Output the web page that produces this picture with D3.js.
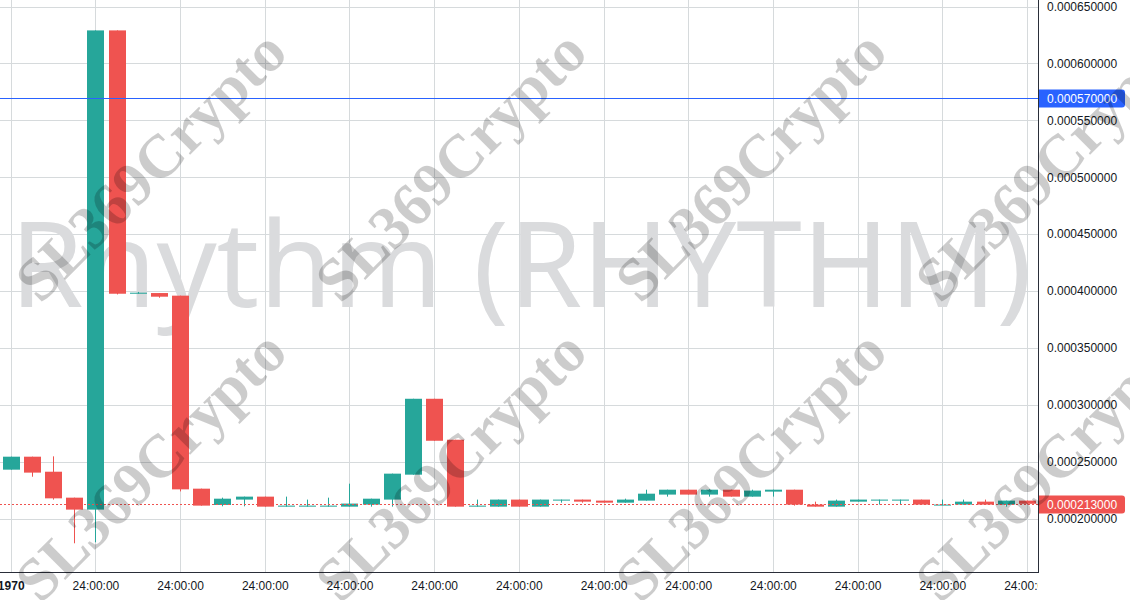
<!DOCTYPE html>
<html>
<head>
<meta charset="utf-8">
<script src="https://cdn.jsdelivr.net/npm/d3@7"></script>
<style>
  html, body { margin: 0; padding: 0; background: #ffffff; }
  svg { display: block; }
</style>
</head>
<body>
<svg id="chart" width="1130" height="600"></svg>
<script>
// ---------------- DATA ----------------
const opens  = [0.0002430,0.0002544,0.0002412,0.0002184,0.0002079,0.0006290,0.0003976,0.0003982,0.0003959,0.0002263,
                0.0002120,0.0002167,0.0002193,0.0002105,0.0002105,0.0002105,0.0002105,0.0002123,0.0002167,0.0002386,
                0.0003053,0.0002693,0.0002105,0.0002105,0.0002167,0.0002105,0.0002158,0.0002167,0.0002158,0.0002140,
                0.0002158,0.0002211,0.0002254,0.0002211,0.0002254,0.0002193,0.0002237,0.0002254,0.0002123,0.0002105,
                0.0002149,0.0002158,0.0002158,0.0002167,0.0002118,0.0002123,0.0002149,0.0002123,0.0002158];
const highs  = [0.0002544,0.0002544,0.0002547,0.0002184,0.0006290,0.0006290,0.0003992,0.0003982,0.0003959,0.0002263,
                0.0002184,0.0002193,0.0002193,0.0002193,0.0002167,0.0002184,0.0002307,0.0002175,0.0002395,0.0003053,
                0.0003053,0.0002693,0.0002167,0.0002167,0.0002167,0.0002167,0.0002167,0.0002167,0.0002158,0.0002175,
                0.0002254,0.0002254,0.0002254,0.0002258,0.0002254,0.0002254,0.0002254,0.0002254,0.0002149,0.0002167,
                0.0002167,0.0002167,0.0002167,0.0002167,0.0002167,0.0002167,0.0002167,0.0002158,0.0002158];
const lows   = [0.0002430,0.0002368,0.0002167,0.0001783,0.0001792,0.0003970,0.0003976,0.0003941,0.0002239,0.0002114,
                0.0002108,0.0002108,0.0002105,0.0002105,0.0002105,0.0002105,0.0002105,0.0002105,0.0002105,0.0002386,
                0.0002684,0.0002105,0.0002105,0.0002105,0.0002105,0.0002105,0.0002140,0.0002140,0.0002140,0.0002140,
                0.0002158,0.0002193,0.0002211,0.0002193,0.0002193,0.0002193,0.0002193,0.0002114,0.0002105,0.0002105,
                0.0002149,0.0002123,0.0002123,0.0002123,0.0002118,0.0002123,0.0002123,0.0002105,0.0002123];
const closes = [0.0002544,0.0002404,0.0002178,0.0002079,0.0006290,0.0003976,0.0003985,0.0003950,0.0002257,0.0002114,
                0.0002175,0.0002193,0.0002105,0.0002114,0.0002114,0.0002114,0.0002132,0.0002175,0.0002395,0.0003053,
                0.0002684,0.0002105,0.0002114,0.0002167,0.0002105,0.0002167,0.0002167,0.0002149,0.0002140,0.0002167,
                0.0002219,0.0002254,0.0002211,0.0002254,0.0002193,0.0002246,0.0002254,0.0002123,0.0002105,0.0002158,
                0.0002167,0.0002167,0.0002167,0.0002123,0.0002123,0.0002149,0.0002123,0.0002158,0.0002130];
const priceTicks = [0.00020,0.00025,0.00030,0.00035,0.00040,0.00045,0.00050,0.00055,0.00060,0.00065];
const timeTickIndex = [0,4,8,12,16,20,24,28,32,36,40,44,48];
const timeTickLabels = ["1970","24:00:00","24:00:00","24:00:00","24:00:00","24:00:00","24:00:00",
                        "24:00:00","24:00:00","24:00:00","24:00:00","24:00:00","24:00:00"];
const lastPrice = 0.000213;
const markerPrice = 0.00057;
const symbolTitle = "Rhythm (RHYTHM)";
const watermarkText = "SL369Crypto";

// ---------------- LAYOUT ----------------
const W = 1130, H = 600;
const paneW = 1038, paneH = 572;
const UP = "#26a69a", DOWN = "#ef5350";
const fontAxis = "'Liberation Sans', Arial, sans-serif";

const svg = d3.select("#chart");
const candles = opens.map((o, i) => ({ i, o, h: highs[i], l: lows[i], c: closes[i] }));

const x = d3.scaleLinear().domain([0, 48]).range([10.7, 1027]);
const y = d3.scaleLinear().domain([0.0002, 0.00065]).range([518.6, 6.5]);
const bodyW = 17;

svg.append("rect").attr("width", W).attr("height", H).attr("fill", "#ffffff");

const defs = svg.append("defs");
defs.append("clipPath").attr("id", "pane").append("rect")
  .attr("x", 0).attr("y", 0).attr("width", paneW).attr("height", paneH);
defs.append("clipPath").attr("id", "timeclip").append("rect")
  .attr("x", 0).attr("y", paneH).attr("width", paneW).attr("height", H - paneH);

const pane = svg.append("g").attr("clip-path", "url(#pane)");

// grid
pane.append("g").selectAll("line.hg").data(priceTicks).join("line")
  .attr("x1", 0).attr("x2", paneW)
  .attr("y1", d => Math.round(y(d)) + 0.5).attr("y2", d => Math.round(y(d)) + 0.5)
  .attr("stroke", "#d6dadc").attr("stroke-width", 1);
pane.append("g").selectAll("line.vg").data(timeTickIndex).join("line")
  .attr("x1", d => Math.round(x(d)) + 0.5).attr("x2", d => Math.round(x(d)) + 0.5)
  .attr("y1", 0).attr("y2", paneH)
  .attr("stroke", "#d6dadc").attr("stroke-width", 1);

// big title watermark
const title = pane.append("text")
  .attr("x", 10).attr("y", 307)
  .attr("font-family", "'Noto Sans', 'Open Sans', sans-serif")
  .attr("font-size", 118)
  .attr("fill", "#dadbdd")
  .text(symbolTitle);
const tw = title.node().getComputedTextLength();
title.attr("font-size", 118 * 1022 / tw);

// candles
const cg = pane.append("g");
cg.selectAll("line.wick").data(candles).join("line")
  .attr("x1", d => Math.round(x(d.i)) + 0.5).attr("x2", d => Math.round(x(d.i)) + 0.5)
  .attr("y1", d => y(d.h)).attr("y2", d => y(d.l))
  .attr("stroke", d => d.c >= d.o ? UP : DOWN).attr("stroke-width", 1);
cg.selectAll("rect.body").data(candles).join("rect")
  .attr("x", d => Math.round(x(d.i)) + 0.5 - bodyW / 2)
  .attr("width", bodyW)
  .attr("y", d => y(Math.max(d.o, d.c)))
  .attr("height", d => Math.max(1, Math.abs(y(d.o) - y(d.c))))
  .attr("fill", d => d.c >= d.o ? UP : DOWN);

// horizontal price lines
pane.append("line")
  .attr("x1", 0).attr("x2", paneW)
  .attr("y1", Math.round(y(markerPrice)) + 0.5).attr("y2", Math.round(y(markerPrice)) + 0.5)
  .attr("stroke", "#2962ff").attr("stroke-width", 1);
pane.append("line")
  .attr("x1", 0).attr("x2", paneW)
  .attr("y1", Math.round(y(lastPrice)) + 0.5).attr("y2", Math.round(y(lastPrice)) + 0.5)
  .attr("stroke", DOWN).attr("stroke-width", 1).attr("stroke-dasharray", "2,2");

// price axis
const yAxis = d3.axisRight(y).tickValues(priceTicks).tickSize(0).tickPadding(9)
  .tickFormat(d => d.toFixed(9));
const ya = svg.append("g").attr("transform", `translate(${paneW},0)`).call(yAxis);
ya.select(".domain").remove();
ya.selectAll("text").attr("font-family", fontAxis).attr("font-size", 12).attr("fill", "#131722");

// time axis
const xAxis = d3.axisBottom(x).tickValues(timeTickIndex).tickSize(0).tickPadding(9)
  .tickFormat((d, k) => timeTickLabels[k]);
const xa = svg.append("g").attr("clip-path", "url(#timeclip)")
  .append("g").attr("transform", `translate(0,${paneH})`).call(xAxis);
xa.select(".domain").remove();
xa.selectAll("text").attr("font-family", fontAxis).attr("font-size", 12).attr("fill", "#131722")
  .attr("font-weight", (d, k) => k === 0 ? "bold" : "normal");

// borders
svg.append("line").attr("x1", paneW + 0.5).attr("x2", paneW + 0.5).attr("y1", 0).attr("y2", paneH + 1)
  .attr("stroke", "#2a2e39").attr("stroke-width", 1);
svg.append("line").attr("x1", 0).attr("x2", paneW + 1).attr("y1", paneH + 0.5).attr("y2", paneH + 0.5)
  .attr("stroke", "#2a2e39").attr("stroke-width", 1);

// price labels
function priceLabel(v, color) {
  const cy = Math.round(y(v)) + 0.5;
  const g = svg.append("g");
  g.append("path")
    .attr("d", `M${paneW + 1},${cy - 9} H1122 Q1125,${cy - 9} 1125,${cy - 6} V${cy + 6} Q1125,${cy + 9} 1122,${cy + 9} H${paneW + 1} Z`)
    .attr("fill", color);
  g.append("text").attr("x", 1047).attr("y", cy).attr("dy", "0.35em")
    .attr("font-family", fontAxis).attr("font-size", 12).attr("fill", "#ffffff")
    .text(v.toFixed(9));
}
priceLabel(markerPrice, "#2962ff");
priceLabel(lastPrice, "#ef5350");

// diagonal watermark overlay
const wmPos = [];
[165, 465].forEach(cy => [150, 450, 750, 1050].forEach(cx => wmPos.push([cx, cy])));
svg.append("g").selectAll("text").data(wmPos).join("text")
  .attr("transform", d => `translate(${d[0]},${d[1]}) rotate(-45)`)
  .attr("text-anchor", "middle").attr("dy", "0.35em")
  .attr("font-family", "'Liberation Serif', 'Times New Roman', serif")
  .attr("font-weight", "bold").attr("font-size", 61)
  .attr("fill", "rgba(0,0,0,0.2)")
  .text(watermarkText);
</script>
</body>
</html>
